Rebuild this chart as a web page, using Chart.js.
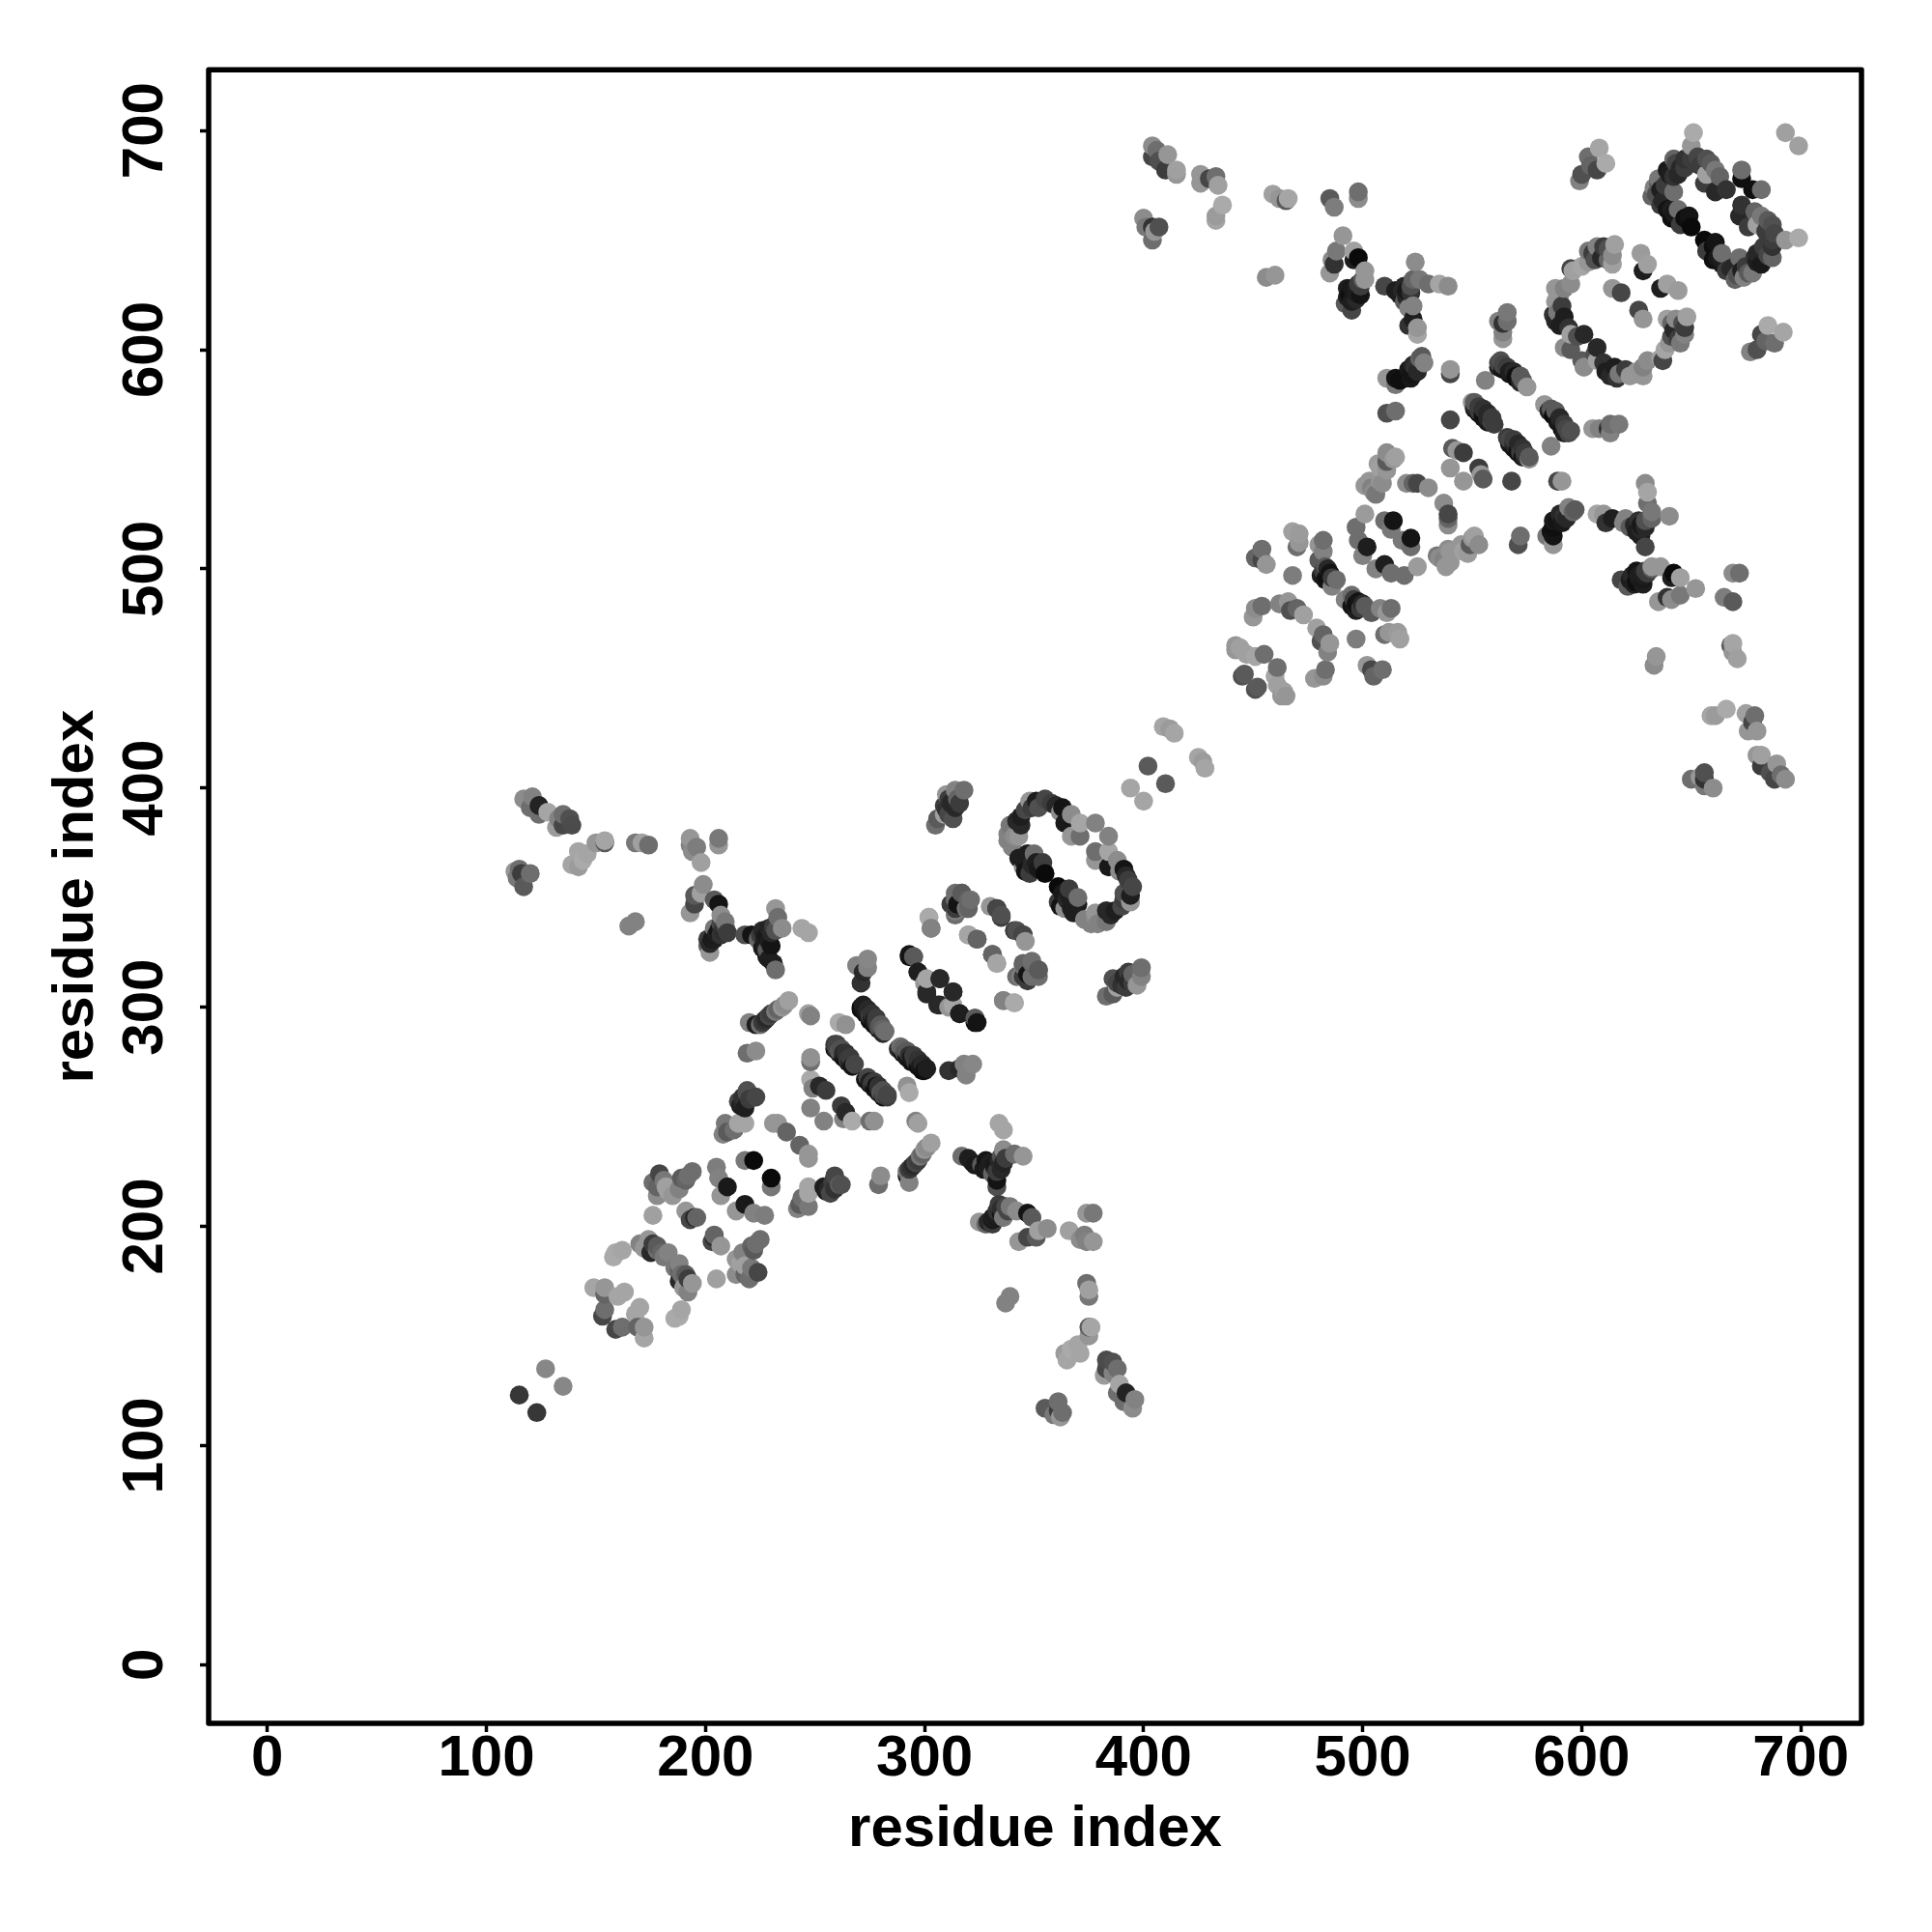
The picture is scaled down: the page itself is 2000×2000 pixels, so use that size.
<!DOCTYPE html>
<html>
<head>
<meta charset="utf-8">
<style>html,body{margin:0;padding:0;background:#fff}canvas{display:block}</style>
<script src="https://cdn.jsdelivr.net/npm/chart.js@4"></script>
</head>
<body>
<canvas id="c" width="2000" height="2000"></canvas>
<script>
// Contacts: [residue i, residue j (> i), contact level 0-255]
const tip1 = [[115,123,55],[127,135,135]];
const low1 = [[149,172,165],[154,172,150],[154,169,100],[160,168,165],[163,170,165],[154,162,110],[153,159,70],[159,188,170],[162,189,165],[158,186,170]];
const lowB1 = [[170,192,130],[174,194,150],[176,192,60],[178,189,110],[181,186,120],[175,188,40],[176,205,160],[179,224,70],[176,220,110],[182,218,160],[194,225,110],[191,221,100],[188,217,130],[185,214,150],[178,214,140],[178,218,100],[181,221,120],[183,216,160],[189,222,90],[192,223,110],[172,190,150],[178,191,90],[180,188,100],[183,188,130]];
const midA1 = [[191,207,150],[195,204,40],[196,204,100],[193,203,70],[205,227,125],[206,222,130],[210,218,25],[207,214,150],[222,230,10],[218,230,120],[247,231,150]];
const midB1 = [[223,259,70],[219,261,90],[215,257,70],[216,255,30],[218,247,165],[215,247,165],[209,247,120],[210,243,90],[213,244,110],[208,242,130],[237,243,100],[233,247,150],[248,254,130],[217,259,50],[220,258,60],[217,256,40],[218,254,30],[219,262,80]];
const midC1 = [[248,267,170],[249,263,130],[252,264,40],[255,262,60],[261,293,170],[264,292,145],[219,279,110],[223,280,140],[248,277,145],[248,275,110],[248,296,130],[247,297,160]];
const barN1 = [[271,300,15],[272,299,20],[273,298,25],[275,296,60],[276,295,30],[277,294,25],[278,293,50],[279,291,80],[281,290,100],[282,289,110],[271,299,10],[273,297,15],[275,294,15],[277,292,20],[279,290,20],[281,288,40],[272,301,30],[274,299,40],[276,297,50],[278,295,60],[280,292,90]];
const barP1 = [[259,283,60],[260,281,70],[261,280,90],[263,279,40],[264,278,15],[265,276,60],[266,275,30],[268,274,70],[259,281,20],[261,279,25],[263,277,15],[265,275,15],[267,273,20],[260,283,70],[262,281,80],[264,279,50],[266,277,60]];
const armI1 = [[220,293,130],[223,292,30],[225,292,110],[227,294,50],[229,296,70],[232,298,120],[235,300,150],[238,303,160],[226,293,60],[228,295,40],[230,297,60],[233,299,100],[236,301,140]];
const armH1 = [[218,333,80],[221,333,20],[224,331,100],[232,345,150],[233,341,110],[235,336,140],[230,334,40],[228,332,25],[227,329,30],[229,322,30],[232,317,110],[228,326,90],[244,336,165],[247,334,165],[225,333,60],[226,335,40],[227,332,30],[229,336,35],[231,337,60],[232,335,80],[229,330,30],[230,328,20],[226,327,25],[228,323,25],[231,320,30]];
const armG1 = [[199,356,140],[198,352,160],[193,343,150],[195,347,70],[195,351,90],[204,349,90],[206,347,20],[207,342,140],[209,339,120],[210,334,60],[207,333,50],[204,331,30],[202,329,40],[202,325,150],[201,328,100],[203,331,25],[205,333,30],[208,335,45],[206,335,20],[204,333,25],[209,337,70],[201,331,60],[207,338,70],[204,336,120]];
const armF1 = [[165,337,130],[168,339,130]];
const armE1 = [[193,377,150],[193,374,130],[196,373,125],[194,371,140],[198,366,160],[206,377,120],[206,374,150]];
const armD1 = [[168,375,120],[171,375,160],[174,374,110]];
const armC1 = [[154,376,165],[150,375,150],[146,370,165],[142,371,165],[139,365,165],[142,364,155],[144,367,170],[154,375,90]];
const armB1 = [[113,362,150],[115,363,110],[116,361,60],[120,361,110],[117,355,90],[114,359,120]];
const armA1 = [[117,395,140],[121,396,130],[120,391,110],[124,392,35],[128,389,165],[124,388,110],[135,388,110],[133,386,130],[132,382,155],[135,383,70],[139,383,75],[138,386,80]];
const rightA1 = [[272,316,40],[271,311,50],[269,319,130],[274,322,135],[274,318,130],[295,323,70],[293,324,20],[297,316,30],[301,313,165],[301,307,40],[307,313,50],[313,307,40],[306,301,40],[311,300,150],[316,297,30],[323,295,90],[323,293,15]];
const rightB1 = [[302,341,165],[303,336,130],[318,399,110],[314,399,130],[310,397,150],[312,393,40],[314,391,40],[309,392,60],[313,386,80],[306,386,90],[305,383,110],[309,388,160],[311,395,60],[313,394,40],[315,395,100],[316,393,60],[310,390,50],[311,388,70]];
const rightC1 = [[321,349,110],[317,352,100],[314,352,110],[312,347,60],[314,344,130],[315,347,20],[319,345,120],[330,346,150],[333,345,40],[335,342,80],[341,335,60],[345,333,70],[320,333,165],[324,331,80],[331,324,100],[333,320,165]];
const rightD1 = [[345,320,100],[349,320,100],[352,317,90],[345,314,60],[342,314,110],[349,314,110],[336,303,130],[341,302,170]];
const ring1 = [[355,395,70],[352,391,80],[348,394,150],[351,394,30],[344,387,30],[344,383,40],[339,383,120],[343,378,150],[338,379,130],[340,373,130],[347,370,30],[350,370,110],[345,367,30],[351,366,30],[354,366,60],[355,361,10],[348,361,60],[345,364,140],[363,391,20],[362,389,140],[367,388,140],[364,384,25],[371,384,165],[367,378,150],[371,378,110],[378,384,130],[349,391,60],[346,390,70],[342,385,40],[341,378,140],[338,376,130],[343,368,30],[346,362,20],[352,363,25],[349,365,40],[358,393,60],[360,392,40]];
const link = [[402,410,90],[394,400,165],[409,428,165],[412,427,155],[414,425,165]];

const far2 = [[404,693,140],[406,691,110],[411,689,150],[404,688,70],[407,686,80],[410,682,60],[415,682,160],[415,680,150],[426,680,150],[426,676,150],[430,678,70],[433,679,110],[434,675,160],[436,666,170],[433,661,155],[433,659,165],[400,660,140],[401,656,120],[404,656,50],[407,656,80],[405,654,150],[404,650,110],[459,671,160],[462,669,150],[466,669,165],[465,668,90],[485,669,90],[487,665,125],[498,672,110],[498,669,140],[456,633,140],[460,634,150]];
const armG2 = [[491,652,150],[488,645,120],[486,641,140],[485,635,150],[487,639,50],[496,645,160],[498,642,10],[496,641,30],[501,636,150],[501,632,150],[499,629,60],[496,626,25],[493,624,30],[495,618,70],[497,623,40],[497,626,30],[495,628,25],[498,630,60],[493,628,30],[499,625,20],[494,625,15],[495,622,30],[492,621,90],[497,628,30],[500,632,90]];
const armH2 = [[510,629,70],[515,627,30],[518,627,40],[520,624,40],[522,629,80],[524,640,140],[526,632,120],[530,630,110],[535,630,165],[539,629,140],[521,619,130],[523,614,30],[525,610,150],[525,607,165],[521,611,50],[519,629,40],[517,625,30],[520,627,25],[522,626,50],[519,622,90],[523,632,100],[523,620,130]];
const armI2 = [[528,594,130],[527,597,90],[524,592,50],[522,589,20],[519,587,15],[515,587,20],[511,587,150],[515,584,120],[540,591,150],[540,589,70],[556,586,130],[511,571,80],[515,572,110],[540,568,70],[517,586,15],[521,591,25],[523,593,40],[526,596,100],[522,587,25],[525,590,40]];
const barL2 = [[550,576,150],[551,574,40],[553,572,60],[555,571,15],[557,569,40],[559,567,70],[560,566,60],[551,576,90],[553,574,60],[555,573,50],[557,571,40],[559,569,60],[551,573,20],[553,571,15],[555,569,20],[557,567,25]];
const midA2 = [[541,555,90],[546,553,60],[543,554,150],[540,546,150],[511,553,140],[515,551,160],[507,548,155],[511,549,90],[501,538,150],[509,539,140],[504,537,130],[506,534,120],[523,539,100],[525,539,70],[530,537,140],[520,539,140],[508,540,150],[505,535,140],[503,540,150],[511,545,150],[508,546,160],[514,550,150]];
const midB2 = [[501,525,155],[497,519,110],[498,513,110],[502,510,30],[500,506,130],[510,522,110],[514,522,20],[513,518,120],[482,513,110],[480,511,150],[482,508,130],[480,504,90],[482,499,60],[485,498,20],[488,495,110],[481,497,30],[486,492,130],[483,501,90],[483,495,20],[484,497,15],[486,496,60],[484,500,40]];
const midC2 = [[468,517,160],[471,516,155],[470,510,110],[471,512,150],[454,509,110],[451,505,100],[456,502,150],[454,504,70],[468,497,125],[451,482,140],[454,483,110],[450,478,150],[462,484,130],[466,485,150],[470,482,100],[473,479,160],[467,481,80]];
const lowC2 = [[444,464,160],[442,465,150],[447,461,160],[455,461,110],[445,451,80],[451,460,165],[442,463,150],[446,452,90]];
const ring2 = [[615,648,160],[614,643,140],[610,647,60],[607,647,130],[606,641,80],[609,642,40],[614,639,160],[600,638,165],[596,636,160],[595,637,70],[627,644,155],[630,639,160],[628,636,30],[614,628,150],[618,626,70],[588,628,150],[595,630,140],[588,622,150],[589,617,120],[587,616,50],[590,611,30],[595,607,160],[601,607,40],[592,601,140],[595,600,90],[592,628,130],[590,625,150],[591,620,60],[588,613,40],[592,615,30],[594,610,50],[598,606,80],[603,645,120],[605,644,60],[612,646,80],[612,641,100],[603,640,150]];
const rightA2 = [[566,617,120],[564,612,50],[562,613,130],[566,613,110],[564,608,130],[564,605,150],[562,594,70],[564,593,70],[567,590,30],[570,588,15],[573,586,90],[575,583,150],[562,592,30],[564,591,20],[567,589,20],[570,587,10],[572,585,40],[563,595,80],[566,592,60],[569,590,40],[572,588,90]];
const rightB2 = [[608,692,165],[603,688,110],[611,685,170],[607,682,70],[604,684,100],[600,680,80],[599,677,130],[693,699,160]];
const ringTop2 = [[651,699,170],[650,693,150],[647,687,50],[642,687,100],[645,683,40],[639,682,25],[642,679,50],[635,678,120],[636,673,30],[642,672,110],[633,674,130],[632,670,100],[636,666,60],[641,664,30],[644,664,110],[641,660,15],[649,661,20],[645,657,60],[650,656,10],[657,687,80],[661,682,120],[657,680,160],[666,673,50],[661,672,40],[673,682,110],[673,678,15],[635,676,90],[638,675,60],[634,671,80],[637,668,40],[639,664,20],[642,662,25],[647,660,15],[644,680,40],[640,680,30],[647,683,60],[643,685,70],[650,687,60],[653,688,70],[654,684,60],[659,685,90],[663,679,100],[656,676,60]];
const tickValues = [0,100,200,300,400,500,600,700];
const axisTitle = "residue index";

const contacts = [tip1,low1,lowB1,midA1,midB1,midC1,barN1,barP1,armI1,armH1,armG1,armF1,armE1,armD1,armC1,armB1,armA1,rightA1,rightB1,rightC1,rightD1,ring1,link,
  far2,armG2,armH2,armI2,barL2,midA2,midB2,midC2,lowC2,ring2,rightA2,rightB2,ringTop2].flat();
const both = [];
contacts.forEach(([i,j,l]) => { both.push({x:i,y:j,l}); both.push({x:j,y:i,l}); });
both.sort((a,b) => a.x-b.x || a.y-b.y);

const FONT = "'Liberation Sans', Arial, sans-serif";
const frame = {
  id:'frame',
  afterDraw(ch){
    const {left,right,top,bottom} = ch.chartArea, c = ch.ctx;
    c.save(); c.strokeStyle='#000'; c.lineWidth=5.5; c.lineJoin='round';
    c.strokeRect(left,top,right-left,bottom-top); c.restore();
  }
};
const axis = (extra) => Object.assign({
  type:'linear', min:-26.8, max:727.7,
  afterBuildTicks(s){ s.ticks = tickValues.map(v=>({value:v})); },
  border:{display:false},
  grid:{display:true,drawOnChartArea:false,drawTicks:true,tickLength:9,tickWidth:3.5,tickColor:'#000'}
},extra);

new Chart(document.getElementById('c'),{
  type:'scatter',
  data:{datasets:[{
    data:both.map(p=>({x:p.x,y:p.y})),
    pointRadius:9.8,pointHoverRadius:9.8,pointBorderWidth:0,
    pointBackgroundColor:both.map(p=>`rgb(${p.l},${p.l},${p.l})`)
  }]},
  plugins:[frame],
  options:{
    responsive:false,animation:false,
    layout:{padding:{top:72.3,right:73,left:0,bottom:0}},
    plugins:{legend:{display:false},tooltip:{enabled:false}},
    scales:{
      x:axis({
        afterFit(s){s.height=216;},
        title:{display:true,text:axisTitle,color:'#000',padding:{top:4,bottom:70},font:{family:FONT,size:60,weight:'bold'}},
        ticks:{color:'#000',font:{family:FONT,size:60,weight:'bold'},padding:-7.5,maxRotation:0,minRotation:0,autoSkip:false}
      }),
      y:axis({
        afterFit(s){s.width=216;},
        title:{display:true,text:axisTitle,color:'#000',padding:{top:43.5,bottom:4},font:{family:FONT,size:60,weight:'bold'}},
        ticks:{color:'#000',font:{family:FONT,size:60,weight:'bold'},padding:5.5,crossAlign:'center',minRotation:90,maxRotation:90,autoSkip:false}
      })
    }
  }
});
</script>
</body>
</html>
